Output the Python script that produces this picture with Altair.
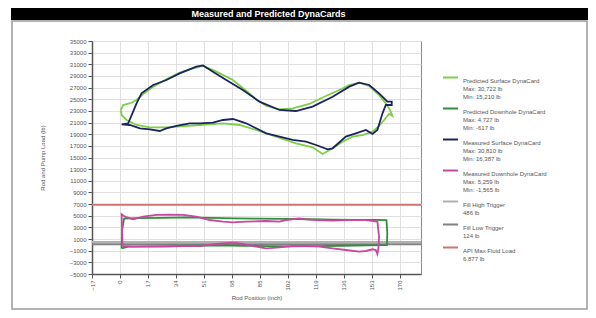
import altair as alt
import pandas as pd

# ---------------- data ----------------
series_names = [
    "Predicted Surface DynaCard",
    "Predicted Downhole DynaCard",
    "Measured Surface DynaCard",
    "Measured Downhole DynaCard",
    "Fill High Trigger",
    "Fill Low Trigger",
    "API Max Fluid Load",
]
series_colors = ["#7ccf45", "#2f8f3a", "#1c2360", "#c8489f", "#b0b0b0", "#808080", "#cf7474"]
legend_details = [
    ["Max: 30,722 lb", "Min: 15,210 lb"],
    ["Max: 4,727 lb", "Min: -617 lb"],
    ["Max: 30,810 lb", "Min: 16,387 lb"],
    ["Max: 5,259 lb", "Min: -1,565 lb"],
    ["486 lb"],
    ["124 lb"],
    ["6,877 lb"],
]

trigger_names = ["Fill High Trigger", "Fill Low Trigger", "API Max Fluid Load"]
trigger_values = [486, 124, 6877]

x_ticks = [-17, 0, 17, 34, 51, 68, 85, 102, 119, 136, 153, 170]
y_ticks = [-5000, -3000, -1000, 1000, 3000, 5000, 7000, 9000, 11000, 13000, 15000, 17000, 19000,
           21000, 23000, 25000, 27000, 29000, 31000, 33000, 35000]

ps_x = [0.4, 2.0, 7.0, 10.1, 14.1, 20.2, 28.2, 36.3, 44.4, 50.5, 58.6, 68.7, 76.7, 82.8, 88.9, 97.0,
        105.0, 115.1, 125.2, 133.3, 139.4, 145.4, 151.5, 157.5, 161.6, 164.0, 165.6, 163.6, 160.6,
        157.5, 153.5, 147.4, 141.4, 135.3, 129.3, 123.2, 117.1, 107.0, 94.9, 82.8, 72.7, 62.6, 48.5,
        28.2, 18.2, 10.1, 4.0, 1.0, 0.4]
ps_y = [23150, 24000, 24400, 24870, 25900, 27160, 28420, 29560, 30310, 30722, 29740, 28300, 26470,
        24990, 23840, 23270, 23440, 24190, 25560, 26590, 27450, 27850, 27280, 25730, 24300, 23270,
        22130, 22470, 21440, 20410, 19440, 18860, 18580, 17720, 16580, 15600, 16750, 17430, 18580,
        19720, 20580, 20870, 20580, 20180, 20180, 20580, 21440, 22300, 23150]

ms_x = [1.0, 5.0, 8.0, 10.1, 13.1, 20.2, 28.2, 36.3, 46.4, 50.5, 56.5, 64.6, 74.7, 84.8, 97.0, 107.0,
        117.1, 129.3, 139.4, 145.4, 151.5, 157.5, 162.6, 165.2, 165.2, 161.6, 159.6, 156.5, 153.5,
        149.5, 143.4, 137.3, 129.3, 126.2, 119.2, 113.1, 105.0, 97.0, 88.9, 82.8, 76.7, 68.7, 62.6,
        56.5, 48.5, 42.4, 34.3, 28.2, 24.2, 18.2, 12.1, 6.0, 1.0]
ms_y = [20700, 20870, 22870, 24300, 26020, 27450, 28300, 29450, 30600, 30810, 29740, 28300, 26590,
        24590, 23160, 22980, 23730, 25440, 27160, 27850, 27450, 26020, 24590, 24590, 24010, 24010,
        22580, 19720, 19040, 19720, 19150, 18580, 16580, 16387, 17150, 17720, 18010, 18580, 19150,
        20010, 20870, 21610, 21440, 20980, 20870, 20870, 20410, 20010, 19550, 19840, 20010, 20580, 20700]

pd_x = [1.0, 1.3, 2.5, 10, 25, 40, 55, 70, 85, 100, 115, 130, 145, 155, 162, 162.5, 162.3, 150, 135,
        120, 105, 90, 75, 60, 45, 30, 15, 5, 1.0]
pd_y = [-617, 2500, 4500, 4600, 4650, 4727, 4650, 4550, 4500, 4450, 4400, 4350, 4300, 4280, 4250,
        2000, -50, -100, -150, -200, -250, -200, -150, -100, -150, -200, -250, -300, -617]

md_x = [1.6, 1.0, 3.0, 8.0, 14.1, 22.2, 30.3, 38.4, 46.4, 54.5, 62.6, 68.7, 76.7, 88.9, 97.0, 101.0,
        109.0, 113.1, 119.2, 129.3, 139.4, 149.5, 156.5, 157.5, 157.1, 156.5, 155.5, 153.5, 149.5,
        145.4, 137.3, 129.3, 121.2, 113.1, 105.0, 97.0, 88.9, 82.8, 74.7, 68.7, 58.6, 48.5, 38.4,
        28.3, 8.0, 1.6]
md_y = [-190, 5259, 4840, 4390, 4840, 5150, 5200, 5150, 4840, 4270, 3990, 3870, 3990, 4100, 3990,
        4270, 4560, 4390, 4270, 4160, 4270, 4270, 3990, 1410, -590, -1565, -900, -760, -1050, -1160,
        -880, -590, -310, -190, -190, -420, -590, -310, 150, 380, 150, -190, -190, -310, -310, -190]

# ---------------- tables ----------------
rows = []
for name, xs, ys in [
    (series_names[0], ps_x, ps_y),
    (series_names[2], ms_x, ms_y),
    (series_names[1], pd_x, pd_y),
    (series_names[3], md_x, md_y),
]:
    for i, (a, b) in enumerate(zip(xs, ys)):
        rows.append({"series": name, "x": a, "y": b, "idx": i})
cards = pd.DataFrame(rows)
triggers = pd.DataFrame({"series": trigger_names, "value": trigger_values})

label_expr = ""
for name, det in zip(series_names, legend_details):
    arr = ", ".join("'" + s + "'" for s in [name] + det)
    label_expr += f"datum.label == '{name}' ? [{arr}] : "
label_expr += "datum.label"

FONT = "Liberation Sans"
color_scale = alt.Scale(domain=series_names, range=series_colors)
x_scale = alt.Scale(domain=[-17, 183], nice=False, zero=False)
y_scale = alt.Scale(domain=[-5000, 35000], nice=False, zero=False)

x_axis = alt.Axis(values=x_ticks, title="Rod Position (inch)", labelAngle=-90, format="d",
                  labelOverlap=False)
y_axis = alt.Axis(values=y_ticks, title="Rod and Pump Load (lb)", format="d",
                  labelOverlap=False, tickCount=21)

legend = alt.Legend(
    title=None, orient="none", legendX=350, legendY=28,
    symbolType="stroke", symbolSize=225, symbolStrokeWidth=2,
    labelExpr=label_expr, labelFontSize=6, labelFont=FONT, labelColor="#555",
    labelBaseline="top", labelOffset=4, rowPadding=0, gridAlign="none", labelLimit=200,
)

one = alt.Data(values=[{}])

frame = alt.Chart(one).mark_rect(fill="transparent", stroke="#9a9a9a", strokeWidth=1.5).encode(
    x=alt.value(-80), x2=alt.value(495), y=alt.value(-20), y2=alt.value(268)
)
bar = alt.Chart(one).mark_rect(fill="black").encode(
    x=alt.value(-81), x2=alt.value(504), y=alt.value(-34), y2=alt.value(-21)
)

rules = alt.Chart(triggers).mark_rule(strokeWidth=2).encode(
    y=alt.Y("value:Q", scale=y_scale, axis=y_axis),
    color=alt.Color("series:N", scale=color_scale, legend=legend),
)

def card(name):
    return alt.Chart(cards).transform_filter(alt.datum.series == name).mark_line(strokeWidth=1.8).encode(
        x=alt.X("x:Q", scale=x_scale, axis=x_axis),
        y=alt.Y("y:Q", scale=y_scale, axis=y_axis),
        color=alt.Color("series:N", scale=color_scale, legend=legend),
        order="idx:Q",
    )

chart = alt.layer(
    frame, bar, rules,
    card(series_names[0]), card(series_names[2]), card(series_names[1]), card(series_names[3]),
).properties(
    width=329, height=233,
    autosize=alt.AutoSizeParams(type="none"),
    padding={"left": 84, "top": 33, "right": 167, "bottom": 36},
    title=alt.Title("Measured and Predicted DynaCards", color="white", fontSize=9, font=FONT,
                    fontWeight="bold", anchor="middle", frame="group", offset=0, dy=12, dx=12),
).configure_view(stroke="#888", strokeWidth=1).configure_axis(
    labelFont=FONT, titleFont=FONT, labelFontSize=6, titleFontSize=6, labelColor="#555",
    titleColor="#555", titleFontWeight="normal", gridColor="#e0e0e0", domainColor="#555",
    domainWidth=1.5, tickColor="#555", tickSize=4, labelPadding=2, labelOverlap=False,
).configure_axisY(titlePadding=24).configure_axisX(titlePadding=4)

chart.save("out.html", embed_options={"renderer": "svg", "actions": False})
